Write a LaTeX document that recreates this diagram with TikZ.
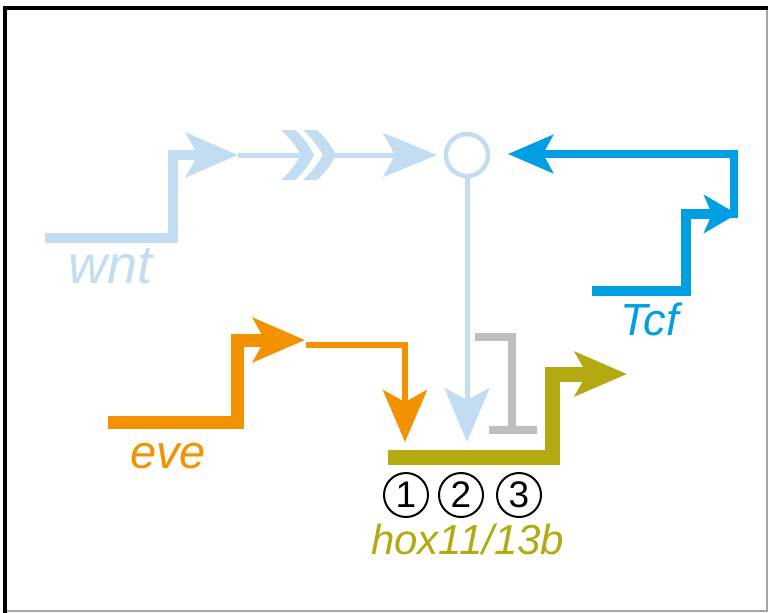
\documentclass[tikz,border=0pt]{standalone}
\usepackage{fontspec}
\usetikzlibrary{arrows.meta}
\newfontfamily\labfont{Liberation Sans}

\definecolor{wntblue}{RGB}{194,220,242}
\definecolor{tcfblue}{RGB}{0,158,226}
\definecolor{eveorange}{RGB}{243,146,0}
\definecolor{hoxolive}{RGB}{178,170,16}
\definecolor{inhgray}{RGB}{190,190,190}

\tikzset{
  gene/.style={line cap=butt, line join=miter},
  bigtip/.style={-{Stealth[length=52pt,width=44pt,inset=12pt]}},
  genelabel/.style={font=\labfont\itshape\fontsize{#1}{#1}\selectfont, inner sep=0pt, anchor=base west},
  site/.style={circle, draw=black, line width=2pt, minimum size=44pt, inner sep=0pt,
               font=\labfont\fontsize{37}{40}\selectfont},
  chev/.pic={
    \fill (0,-25) -- (14,-25) .. controls (22,-18) and (28,-10) .. (33,0)
          .. controls (28,10) and (22,18) .. (14,25) -- (0,25)
          .. controls (8,18) and (14,10) .. (20,0) .. controls (14,-10) and (8,-18) .. cycle;
  }
}

\begin{document}
\begin{tikzpicture}[x=1pt,y=-1pt]
\useasboundingbox (0,0) rectangle (769,613);

% frame
\draw[line width=1.5pt, gray!70] (767,8) -- (767,611) -- (5,611);
\draw[line width=4.5pt, black, line join=miter] (5,613) -- (5,8) -- (768,8);

% key points
\coordinate (w0) at (45,238);  \coordinate (w1) at (173,238);
\coordinate (w2) at (173,155); \coordinate (w3) at (238,155);
\coordinate (w5) at (300,155); \coordinate (w6) at (333,155);
\coordinate (w7) at (437,155);
\coordinate (e0) at (108,422); \coordinate (e1) at (237,422);
\coordinate (e2) at (237,340); \coordinate (e3) at (305,340);
\coordinate (e4) at (306,345); \coordinate (e5) at (405,345);
\coordinate (p1) at (405,442); \coordinate (p2) at (467,442);
\coordinate (t0) at (592,291); \coordinate (t1) at (686,291);
\coordinate (t2) at (686,214); \coordinate (t3) at (737,214);
\coordinate (t4) at (734,218); \coordinate (t5) at (734,154);
\coordinate (t6) at (508,154);
\coordinate (h0) at (388,457); \coordinate (h1) at (552,457);
\coordinate (h2) at (552,374); \coordinate (h3) at (627,374);
\coordinate (g0) at (475,337); \coordinate (g1) at (512,337);
\coordinate (g2) at (512,430); \coordinate (g3) at (489,430);
\coordinate (g4) at (537,430);

% wnt
\node[circle, draw=wntblue, line width=4.5pt, minimum size=42pt, inner sep=0pt] (hub) at (467,155) {};
\draw[gene, wntblue, line width=10pt, bigtip] (w0) -- (w1) -- (w2) -- (w3);
\draw[gene, wntblue, line width=5pt] (w3) -- (w5);
\pic[wntblue] at (281,155) {chev};
\pic[wntblue] at (303,155) {chev};
\draw[gene, wntblue, line width=5pt, -{Stealth[length=54pt,width=44pt,inset=12pt]}] (w6) -- (w7);
\draw[gene, wntblue, line width=5pt, -{Stealth[length=54pt,width=45pt,inset=12pt]}] (hub.south) -- (p2);
\node[genelabel=54, text=wntblue] (wntlab) at (68,283) {wnt};

% Tcf
\draw[gene, tcfblue, line width=9.5pt, -{Stealth[length=33pt,width=38pt,inset=8pt]}] (t0) -- (t1) -- (t2) -- (t3);
\draw[gene, tcfblue, line width=8pt, -{Stealth[length=45pt,width=38pt,inset=10pt]}] (t4) -- (t5) -- (t6);
\node[genelabel=45, text=tcfblue] (tcflab) at (620,335) {Tcf};

% eve
\draw[gene, eveorange, line width=13pt, bigtip] (e0) -- (e1) -- (e2) -- (e3);
\draw[gene, eveorange, line width=6pt, bigtip] (e4) -- (e5) -- (p1);
\node[genelabel=47, text=eveorange] (evelab) at (130,468) {eve};

% repression
\draw[gene, inhgray, line width=8pt] (g0) -- (g1) -- (g2);
\draw[gene, inhgray, line width=8pt] (g3) -- (g4);

% hox11/13b
\draw[gene, hoxolive, line width=15pt, bigtip] (h0) -- (h1) -- (h2) -- (h3);
\node[site] (c1) at (406,495) {1};
\node[site] (c2) at (461,495) {2};
\node[site] (c3) at (519,495) {3};
\node[genelabel=42, text=hoxolive] (hoxlab) at (371,554) {hox11/13b};
\end{tikzpicture}
\end{document}
